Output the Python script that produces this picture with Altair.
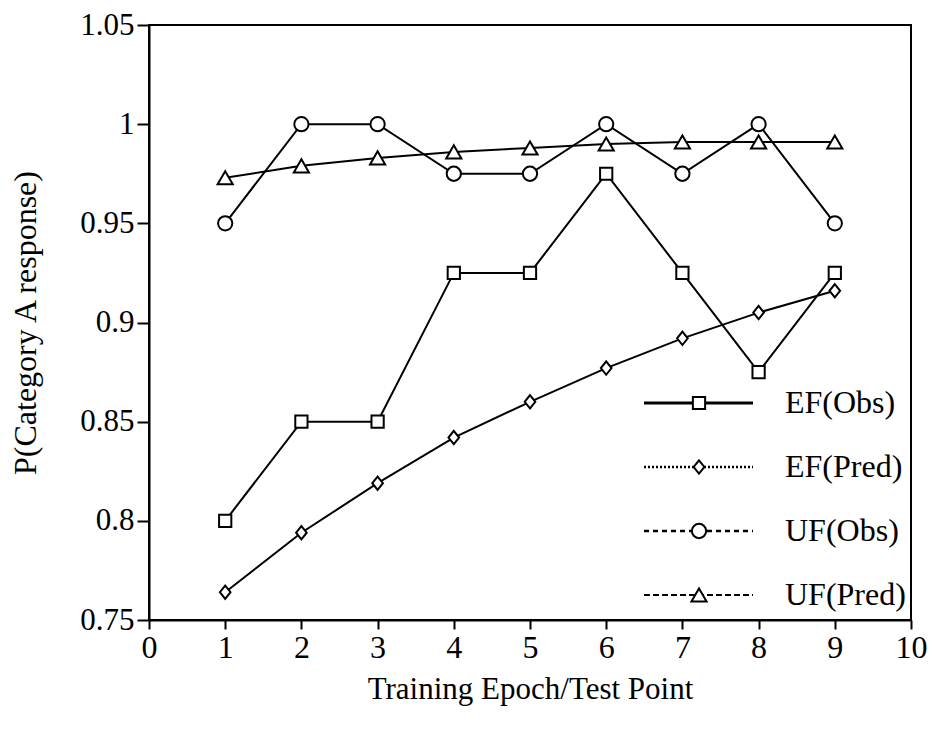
import altair as alt
import pandas as pd

epochs = [1, 2, 3, 4, 5, 6, 7, 8, 9]
ef_obs = [0.800, 0.850, 0.850, 0.925, 0.925, 0.975, 0.925, 0.875, 0.925]
ef_pred = [0.764, 0.794, 0.819, 0.842, 0.860, 0.877, 0.892, 0.905, 0.916]
uf_obs = [0.950, 1.000, 1.000, 0.975, 0.975, 1.000, 0.975, 1.000, 0.950]
uf_pred = [0.973, 0.979, 0.983, 0.986, 0.988, 0.990, 0.991, 0.991, 0.991]
series_names = ["EF(Obs)", "EF(Pred)", "UF(Obs)", "UF(Pred)"]
x_ticks = [0, 1, 2, 3, 4, 5, 6, 7, 8, 9, 10]
y_ticks = [0.75, 0.8, 0.85, 0.9, 0.95, 1.0, 1.05]

rows = []
for name, vals in zip(series_names, [ef_obs, ef_pred, uf_obs, uf_pred]):
    for e, v in zip(epochs, vals):
        rows.append({"series": name, "epoch": e, "value": v})
df = pd.DataFrame(rows)
legend_df = pd.DataFrame({"series": series_names})

FONT = "Liberation Serif"
FS = 32
W, H = 762, 595

shape_scale = alt.Scale(
    domain=series_names,
    range=["square", "M0,-1L0.8,0L0,1L-0.8,0Z", "circle", "triangle-up"],
)
size_scale = alt.Scale(domain=series_names, range=[150, 230, 160, 180])

x_enc = alt.X(
    "epoch:Q",
    scale=alt.Scale(domain=[0, 10], nice=False, zero=False),
    axis=alt.Axis(
        values=x_ticks, format="d", tickSize=9, labelPadding=3,
        labelFont=FONT, labelFontSize=FS,
        title="Training Epoch/Test Point", titleFont=FONT, titleFontSize=31,
        titleX=W / 2, titleY=69,
        titleBaseline="middle", titleAlign="center", labelFlush=False,
    ),
)
y_scale = alt.Scale(domain=[0.75, 1.05], nice=False, zero=False)
y_enc = alt.Y(
    "value:Q",
    scale=y_scale,
    axis=alt.Axis(
        values=y_ticks, format="~g", tickSize=12, labelPadding=3,
        labelFont=FONT, labelFontSize=31,
        title="P(Category A response)", titleFont=FONT, titleFontSize=FS,
        titleX=-124, titleY=H / 2,
        titleAngle=270, titleAlign="center", titleBaseline="middle",
    ),
)

lines = alt.Chart(df).mark_line(color="black", strokeWidth=2).encode(
    x=x_enc, y=y_enc, detail="series:N"
)
points = alt.Chart(df).mark_point(
    filled=True, fill="white", stroke="black", strokeWidth=2, opacity=1
).encode(
    x=alt.X("epoch:Q", scale=alt.Scale(domain=[0, 10], nice=False, zero=False)),
    y=alt.Y("value:Q", scale=y_scale),
    shape=alt.Shape("series:N", scale=shape_scale, legend=None),
    size=alt.Size("series:N", scale=size_scale, legend=None),
)

leg_y = alt.Y(
    "series:N",
    scale=alt.Scale(type="point", domain=series_names, range=[378, 570], padding=0),
    axis=None,
)
leg_rule = alt.Chart(legend_df).mark_rule(color="black").encode(
    x=alt.value(495), x2=alt.value(604), y=leg_y,
    strokeDash=alt.StrokeDash(
        "series:N",
        scale=alt.Scale(domain=series_names, range=[[1, 0], [2, 2], [5, 4], [6, 3]]),
        legend=None,
    ),
    strokeWidth=alt.StrokeWidth(
        "series:N", scale=alt.Scale(domain=series_names, range=[3, 2, 2, 2.5]), legend=None
    ),
)
leg_pts = alt.Chart(legend_df).mark_point(
    filled=True, fill="white", stroke="black", strokeWidth=2, opacity=1
).encode(
    x=alt.value(550), y=leg_y,
    shape=alt.Shape("series:N", scale=shape_scale, legend=None),
    size=alt.Size("series:N", scale=size_scale, legend=None),
)
leg_txt = alt.Chart(legend_df).mark_text(
    align="left", baseline="middle", font=FONT, fontSize=FS, color="black"
).encode(x=alt.value(636), y=leg_y, text="series:N")

chart = alt.layer(
    alt.layer(lines, points),
    alt.layer(leg_rule, leg_pts, leg_txt),
).resolve_scale(y="independent").properties(
    width=W, height=H,
    autosize=alt.AutoSizeParams(type="none"),
    padding={"left": 141, "top": 17, "right": 17, "bottom": 96},
).configure_view(
    stroke="black", strokeWidth=2
).configure_axis(
    grid=False, domainColor="black", domainWidth=2, tickColor="black", tickWidth=2,
    labelFont=FONT, labelFontSize=FS, labelColor="black",
    titleFont=FONT, titleFontSize=FS, titleFontWeight="normal", titleColor="black",
)

chart.save("out.html", embed_options={"renderer": "svg", "actions": False})
